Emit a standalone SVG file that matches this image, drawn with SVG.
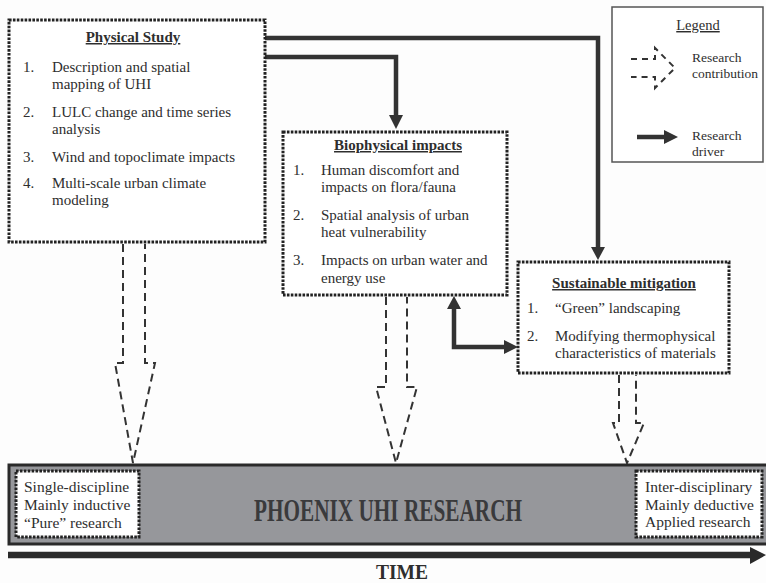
<svg xmlns="http://www.w3.org/2000/svg" width="766" height="583" viewBox="0 0 766 583">
<defs>
<style>
text{font-family:"Liberation Serif","Times New Roman",serif;fill:#2e2e2e}
.t{font-size:15px}
.h{font-size:15px;font-weight:bold;text-decoration:underline;text-anchor:middle}
.lg{font-size:13.5px}
.box{fill:#fff;stroke:#222;stroke-width:3;stroke-dasharray:2.6 1.3}
.drv{fill:none;stroke:#333;stroke-width:4.5;stroke-linejoin:miter}
.head{fill:#333}
.con{fill:none;stroke:#333;stroke-width:2;stroke-dasharray:8 5}
</style>
</defs>
<rect x="0" y="0" width="766" height="583" fill="#fdfdfd"/>

<g id="legend">
<rect x="612" y="7" width="151" height="155" fill="#fff" stroke="#555" stroke-width="1.5"/>
<text x="698" y="30" class="lg" text-anchor="middle" style="font-size:14.5px;text-decoration:underline">Legend</text>
<polyline points="631,59 655,59 655,48 675,68 655,88 655,77 631,77" fill="none" stroke="#333" stroke-width="2" stroke-dasharray="6 5"/>
<text x="692" y="62" class="lg">Research</text>
<text x="692" y="78" class="lg">contribution</text>
<line x1="637" y1="137" x2="666" y2="137" stroke="#333" stroke-width="4.5"/>
<polygon points="664,130 678,137 664,144" class="head"/>
<text x="692" y="140" class="lg">Research</text>
<text x="692" y="156" class="lg">driver</text>
</g>

<g id="connectors">
<polyline points="265,38 598,38 598,249" class="drv"/>
<polygon points="591,247 605,247 598,260" class="head"/>
<polyline points="265,57 396,57 396,117" class="drv"/>
<polygon points="389,115 403,115 396,129" class="head"/>
<polyline points="454,307 454,347 506,347" class="drv"/>
<polygon points="447,309 461,309 454,296" class="head"/>
<polygon points="504,340 504,354 518,347" class="head"/>
<polyline points="123,244 123,363 115,363 133,463 155,363 145,363 145,244" class="con"/>
<polyline points="386,297 386,387 376,387 396,463 417,387 407,387 407,297" class="con"/>
<polyline points="619,375 619,423 613,423 627,463 644,423 636,423 636,375" class="con"/>
</g>

<g id="physical-study">
<rect x="9" y="20" width="256" height="222" class="box"/>
<text x="133" y="42" class="h">Physical Study</text>
<text x="23" y="72" class="t">1.</text>
<text x="52" y="72" class="t">Description and spatial</text>
<text x="52" y="89" class="t">mapping of UHI</text>
<text x="23" y="117" class="t">2.</text>
<text x="52" y="117" class="t">LULC change and time series</text>
<text x="52" y="134" class="t">analysis</text>
<text x="23" y="162" class="t">3.</text>
<text x="52" y="162" class="t">Wind and topoclimate impacts</text>
<text x="23" y="188" class="t">4.</text>
<text x="52" y="188" class="t">Multi-scale urban climate</text>
<text x="52" y="205" class="t">modeling</text>
</g>

<g id="biophysical-impacts">
<rect x="283" y="132" width="224" height="163" class="box"/>
<text x="398" y="150" class="h">Biophysical impacts</text>
<text x="293" y="175" class="t">1.</text>
<text x="321" y="175" class="t">Human discomfort and</text>
<text x="321" y="192" class="t">impacts on flora/fauna</text>
<text x="293" y="220" class="t">2.</text>
<text x="321" y="220" class="t">Spatial analysis of urban</text>
<text x="321" y="237" class="t">heat vulnerability</text>
<text x="293" y="265" class="t">3.</text>
<text x="321" y="265" class="t">Impacts on urban water and</text>
<text x="321" y="283" class="t">energy use</text>
</g>

<g id="sustainable-mitigation">
<rect x="518" y="262" width="211" height="111" class="box"/>
<text x="624" y="288" class="h">Sustainable mitigation</text>
<text x="527" y="313" class="t">1.</text>
<text x="555" y="313" class="t">“Green” landscaping</text>
<text x="527" y="341" class="t">2.</text>
<text x="555" y="341" class="t">Modifying thermophysical</text>
<text x="555" y="358" class="t">characteristics of materials</text>
</g>

<g id="phoenix-bar">
<rect x="9" y="465" width="760" height="79" fill="#96979b" stroke="#2a2a2a" stroke-width="3"/>
<text x="388" y="521" text-anchor="middle" style="font-size:31px;font-weight:bold;fill:#3a3a3c" textLength="268" lengthAdjust="spacingAndGlyphs">PHOENIX UHI RESEARCH</text>
</g>

<g id="single-discipline">
<rect x="16" y="471" width="123" height="66" class="box"/>
<text x="24" y="492" style="font-size:15.5px">Single-discipline</text>
<text x="24" y="510" style="font-size:15.5px">Mainly inductive</text>
<text x="24" y="528" style="font-size:15.5px">“Pure” research</text>
</g>

<g id="inter-disciplinary">
<rect x="636" y="471" width="126" height="66" class="box"/>
<text x="645" y="492" style="font-size:15.5px">Inter-disciplinary</text>
<text x="645" y="510" style="font-size:15.5px">Mainly deductive</text>
<text x="645" y="527" style="font-size:15.5px">Applied research</text>
</g>

<g id="time">
<line x1="8" y1="555" x2="752" y2="555" stroke="#2a2a2a" stroke-width="6.5"/>
<polygon points="750,547 766,555 750,564" fill="#2a2a2a"/>
<text x="402" y="579" text-anchor="middle" style="font-size:20px;font-weight:bold" textLength="52" lengthAdjust="spacingAndGlyphs">TIME</text>
</g>
</svg>
